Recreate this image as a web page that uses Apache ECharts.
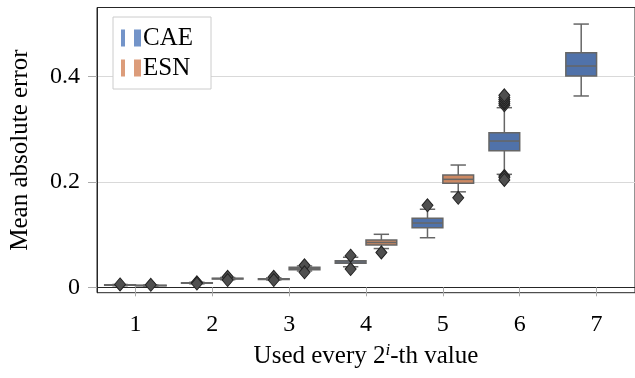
<!DOCTYPE html>
<html>
<head>
<meta charset="utf-8">
<script src="https://cdn.jsdelivr.net/npm/echarts@6/dist/echarts.min.js"></script>
<style>
  html, body { margin: 0; padding: 0; background: #fff; }
  #chart { width: 635px; height: 378px; }
</style>
</head>
<body>
<div id="chart"></div>
<script>
// Sampling step exponent i (every 2^i-th value is used)
const categories = [1, 2, 3, 4, 5, 6, 7];

// Box statistics per step: [lower whisker, Q1, median, Q3, upper whisker]
const caeStats = [
  [0.0030, 0.0038, 0.0043, 0.0048, 0.0054],
  [0.0066, 0.0076, 0.0081, 0.0087, 0.0095],
  [0.0140, 0.0150, 0.0157, 0.0164, 0.0180],
  [0.0390, 0.0455, 0.0480, 0.0505, 0.0570],
  [0.0940, 0.1130, 0.1219, 0.1308, 0.1480],
  [0.2142, 0.2590, 0.2773, 0.2932, 0.3405],
  [0.3627, 0.4006, 0.4195, 0.4448, 0.4990]
];
const esnStats = [
  [0.0022, 0.0029, 0.0034, 0.0039, 0.0044],
  [0.0145, 0.0158, 0.0165, 0.0172, 0.0186],
  [0.0310, 0.0335, 0.0358, 0.0380, 0.0405],
  [0.0735, 0.0802, 0.0850, 0.0897, 0.1005],
  [0.1810, 0.1971, 0.2047, 0.2129, 0.2318]
];

// Outliers per step
const caeOutliers = [
  [0.0055],
  [0.0095, 0.0072],
  [0.0200, 0.0138],
  [0.0600, 0.0347],
  [0.1554],
  [0.3450, 0.3490, 0.3520, 0.3560, 0.3600, 0.3640, 0.2110, 0.2080, 0.2035],
  []
];
const esnOutliers = [
  [0.0047],
  [0.0200, 0.0138],
  [0.0417, 0.0284],
  [0.0660],
  [0.1697]
];

const yTicks = [0, 0.2, 0.4];

const SERIF = "'Liberation Serif', 'Times New Roman', serif";
const EDGE = '#666666';
const BOX_W = 0.4;
const CAE_COLOR = '#5072aa';
const ESN_COLOR = '#cc8963';

function boxData(stats) {
  return stats.map((s, i) => [categories[i]].concat(s));
}
function outlierData(list, offset) {
  const out = [];
  list.forEach((vals, i) => vals.forEach(v => out.push([categories[i] + offset, v])));
  return out;
}

function boxRenderer(offset) {
  return function (params, api) {
    const x = api.value(0) + offset;
    const lo = api.coord([x, api.value(1)]);
    const q1 = api.coord([x, api.value(2)]);
    const md = api.coord([x, api.value(3)]);
    const q3 = api.coord([x, api.value(4)]);
    const hi = api.coord([x, api.value(5)]);
    const w = api.size([BOX_W, 0])[0];
    const cx = lo[0];
    const ls = { stroke: EDGE, lineWidth: 1.5 };
    return {
      type: 'group',
      children: [
        { type: 'line', shape: { x1: cx, y1: hi[1], x2: cx, y2: q3[1] }, style: ls },
        { type: 'line', shape: { x1: cx, y1: q1[1], x2: cx, y2: lo[1] }, style: ls },
        { type: 'line', shape: { x1: cx - w / 4, y1: hi[1], x2: cx + w / 4, y2: hi[1] }, style: ls },
        { type: 'line', shape: { x1: cx - w / 4, y1: lo[1], x2: cx + w / 4, y2: lo[1] }, style: ls },
        { type: 'rect', shape: { x: cx - w / 2, y: q3[1], width: w, height: q1[1] - q3[1] },
          style: { fill: api.visual('color'), stroke: EDGE, lineWidth: 1.5 } },
        { type: 'line', shape: { x1: cx - w / 2, y1: md[1], x2: cx + w / 2, y2: md[1] }, style: ls }
      ]
    };
  };
}

const outlierStyle = {
  color: '#4f4f4f',
  borderColor: '#222222',
  borderWidth: 1,
  opacity: 1
};

const chart = echarts.init(document.getElementById('chart'), null, { renderer: 'canvas' });
chart.setOption({
  animation: false,
  backgroundColor: '#ffffff',
  textStyle: { fontFamily: SERIF },
  grid: {
    left: 97, top: 7.5, right: -4, bottom: 85.3,
    show: true, borderColor: '#262626', borderWidth: 1, backgroundColor: 'transparent'
  },
  legend: {
    left: 113, top: 17,
    orient: 'vertical',
    backgroundColor: '#ffffff',
    borderColor: '#cccccc',
    borderWidth: 1,
    padding: [7, 18, 7, 8],
    itemGap: 2,
    itemWidth: 20,
    itemHeight: 17,
    symbolKeepAspect: false,
    icon: 'path://M0,0h4v17h-4zM13,0h7v17h-7z',
    textStyle: { fontFamily: SERIF, fontSize: 25, lineHeight: 28, color: '#000', padding: [0, 0, 0, -3] },
    data: [
      { name: 'CAE', itemStyle: { color: '#7394c9' } },
      { name: 'ESN', itemStyle: { color: '#dc9c7a' } }
    ]
  },
  xAxis: {
    type: 'value',
    min: 0.5, max: 7.5,
    name: '{t|Used every 2}{sup|i}{t|-th value}',
    nameLocation: 'middle',
    nameGap: 49,
    nameTextStyle: {
      rich: {
        t: { fontFamily: SERIF, fontSize: 25, color: '#000' },
        sup: { fontFamily: SERIF, fontSize: 17, fontStyle: 'italic', color: '#000', padding: [0, 0, 13, 0] }
      }
    },
    axisLine: { show: true, lineStyle: { color: '#262626', width: 1 } },
    axisTick: { show: true, customValues: categories, length: 9, lineStyle: { color: '#aaaaaa', width: 1 } },
    axisLabel: { customValues: categories, margin: 20, fontFamily: SERIF, fontSize: 24, color: '#000' },
    splitLine: { show: false }
  },
  yAxis: {
    type: 'value',
    min: -0.0102, max: 0.5304,
    name: 'Mean absolute error',
    nameLocation: 'middle',
    nameGap: 64,
    nameTextStyle: { fontFamily: SERIF, fontSize: 25, color: '#000' },
    axisLine: { show: true, lineStyle: { color: '#262626', width: 1 } },
    axisTick: { show: true, customValues: yTicks, length: 9, lineStyle: { color: '#aaaaaa', width: 1 } },
    axisLabel: {
      customValues: yTicks, margin: 17, fontFamily: SERIF, fontSize: 24, color: '#000',
      formatter: v => (v === 0 ? '0' : v.toFixed(1))
    },
    splitLine: { show: true, lineStyle: { color: '#d9d9d9', width: 1 } }
  },
  series: [
    {
      name: 'CAE', type: 'custom', renderItem: boxRenderer(-0.2),
      itemStyle: { color: CAE_COLOR },
      encode: { x: 0, y: [1, 2, 3, 4, 5] },
      data: boxData(caeStats), z: 2
    },
    {
      name: 'ESN', type: 'custom', renderItem: boxRenderer(0.2),
      itemStyle: { color: ESN_COLOR },
      encode: { x: 0, y: [1, 2, 3, 4, 5] },
      data: boxData(esnStats), z: 2
    },
    {
      name: 'CAE outliers', type: 'scatter', symbol: 'diamond', symbolSize: [11, 13],
      itemStyle: outlierStyle, data: outlierData(caeOutliers, -0.2), z: 3
    },
    {
      name: 'ESN outliers', type: 'scatter', symbol: 'diamond', symbolSize: [11, 13],
      itemStyle: outlierStyle, data: outlierData(esnOutliers, 0.2), z: 3
    }
  ]
});
</script>
</body>
</html>
